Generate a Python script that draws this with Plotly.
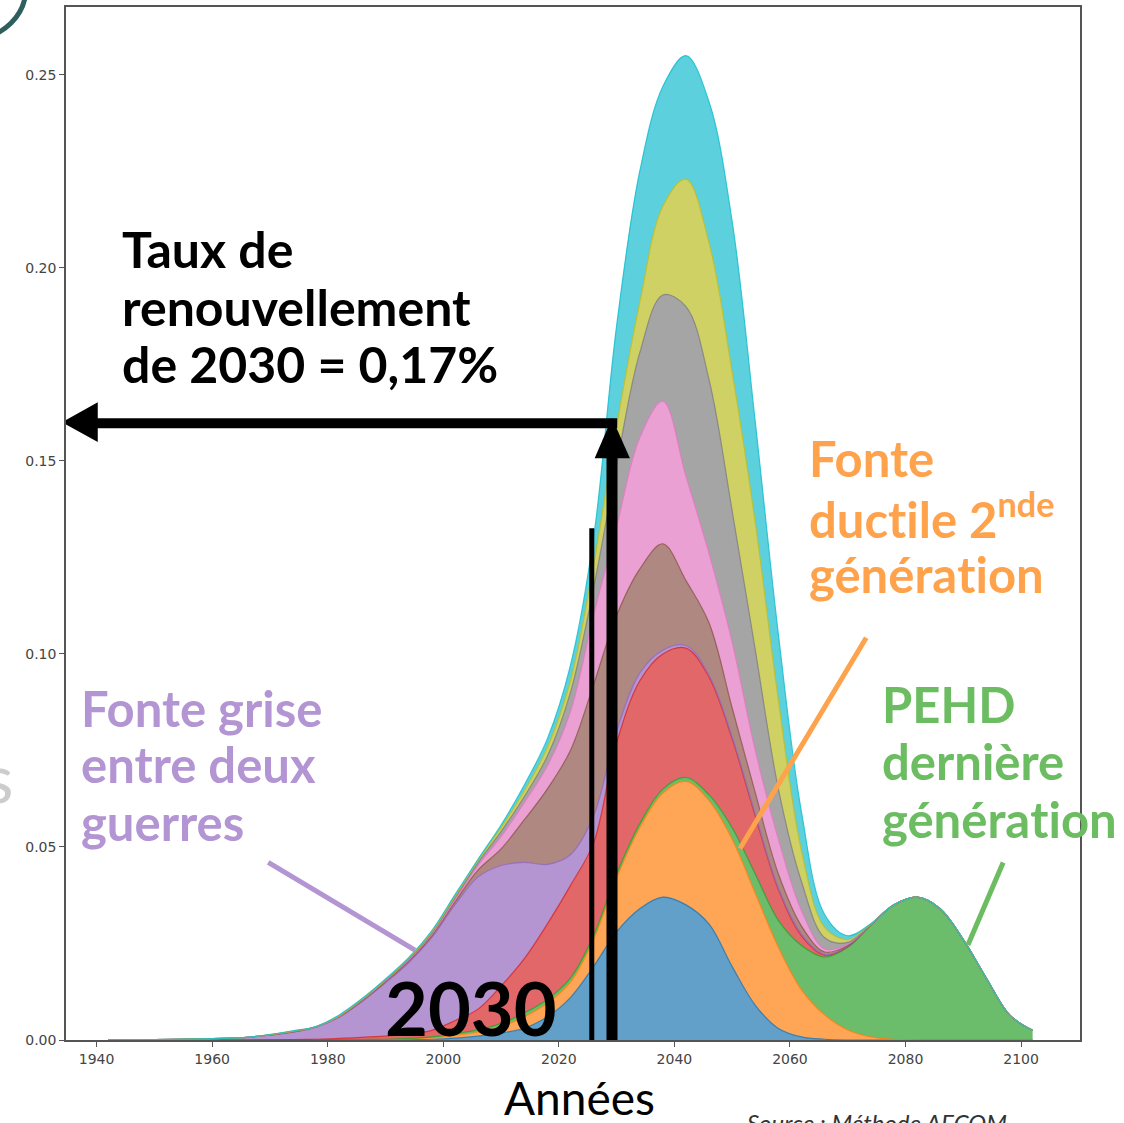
import plotly.graph_objects as go

# Years sampled along the horizontal axis
annees = [1942, 1950, 1958, 1966, 1974, 1978, 1982, 1986, 1990, 1994, 1998, 2002, 2006, 2010,
          2014, 2018, 2022, 2026, 2030, 2034, 2038, 2042, 2046, 2050, 2054, 2058,
          2062, 2066, 2070, 2074, 2078, 2082, 2086, 2090, 2094, 2098, 2102]

# Upper edge of each stacked band (cumulative renewal rate), bottom band first
bord_c0 = [0, 0, 0, 0, 0, 0, 0, 0, 0, .0001, .0002, .0005, .001, .0018, .003, .006, .011, .019,
           .028, .034, .037, .035, .030, .019, .009, .003, .0008, .0002, 0, 0, 0, 0, 0, 0, 0, 0, 0]
bord_c1 = [0, 0, 0, 0, 0, 0, 0, 0, .0001, .0003, .0006, .0012, .002, .0035, .006, .0095, .015, .026,
           .042, .055, .064, .067, .062, .052, .038, .024, .013, .0065, .0026, .0008, .0002, 0, 0, 0, 0, 0, 0]
bord_c2 = [0, 0, 0, 0, 0, 0, 0, .0001, .0002, .0004, .0008, .0016, .0026, .0043, .007, .0105, .016, .027,
           .043, .056, .065, .068, .0635, .055, .043, .031, .0245, .0215, .024, .0298, .035, .037, .034, .026, .016, .0065, .0025]
bord_c3 = [0, 0, 0, 0, .0001, .0002, .0004, .0007, .001, .0015, .0025, .005, .008, .014, .021, .030, .040, .051,
           .077, .093, .100, .1015, .094, .078, .058, .039, .027, .022, .0242, .0298, .035, .037, .034, .026, .016, .0065, .0025]
bord_c4 = [0, .0001, .0003, .0007, .002, .0033, .0059, .0100, .0148, .020, .0265, .035, .0422, .0452, .046, .0455, .048, .058,
           .080, .095, .101, .1022, .0945, .0785, .0585, .0393, .0274, .0222, .0243, .0298, .035, .037, .034, .026, .016, .0065, .0025]
bord_c5 = [0, .0001, .0003, .0007, .0021, .0034, .0060, .0102, .0151, .0204, .027, .0357, .0440, .0495, .057, .065, .075, .092,
           .110, .122, .1285, .119, .108, .086, .064, .043, .0295, .0228, .0245, .0299, .035, .037, .034, .026, .016, .0065, .0025]
bord_c6 = [0, .0001, .0003, .0007, .0022, .0034, .0061, .0104, .0154, .0207, .0274, .0363, .0452, .0527, .0615, .071, .085, .110,
           .133, .156, .1655, .146, .126, .103, .075, .052, .0335, .0236, .0248, .0299, .035, .037, .034, .026, .016, .0065, .0025]
bord_c7 = [0, .0001, .0003, .0007, .0022, .0035, .0062, .0105, .0155, .0209, .0277, .0368, .0459, .054, .063, .0735, .090, .117,
           .149, .178, .193, .190, .171, .137, .101, .065, .041, .0265, .0253, .0300, .035, .037, .034, .026, .016, .0065, .0025]
bord_c8 = [0, .0001, .0003, .0007, .0023, .0035, .0063, .0106, .0156, .0211, .028, .0372, .0465, .055, .0645, .0757, .093, .123,
           .159, .191, .216, .223, .2065, .173, .134, .088, .049, .0292, .026, .0300, .035, .037, .034, .026, .016, .0065, .0025]
bord_c9 = [0, .0001, .0003, .0007, .0024, .0035, .0065, .0108, .0158, .0213, .0283, .0376, .0468, .0557, .066, .078, .097, .130,
           .185, .225, .247, .255, .243, .212, .160, .105, .059, .0325, .0270, .0301, .035, .037, .034, .026, .016, .0065, .0025]

bords = [bord_c0, bord_c1, bord_c2, bord_c3, bord_c4, bord_c5, bord_c6, bord_c7, bord_c8, bord_c9]

# tab10 palette
tab10 = [(31, 119, 180), (255, 127, 14), (44, 160, 44), (214, 39, 40), (148, 103, 189),
         (140, 86, 75), (227, 119, 194), (127, 127, 127), (188, 189, 34), (23, 190, 207)]

ticks_x = [1940, 1960, 1980, 2000, 2020, 2040, 2060, 2080, 2100]
ticks_y = [0.0, 0.05, 0.10, 0.15, 0.20, 0.25]

fig = go.Figure()
for i, (bord, (r, g, b)) in enumerate(zip(bords, tab10)):
    fig.add_trace(go.Scatter(
        x=annees, y=bord, mode="lines",
        line=dict(shape="spline", smoothing=1.0, width=1.2, color=f"rgba({r},{g},{b},0.85)"),
        fill="tozeroy" if i == 0 else "tonexty",
        fillcolor=f"rgba({r},{g},{b},0.70)",
        showlegend=False, hoverinfo="skip",
    ))

annotations = []


def ligne(texte, x, y, taille, couleur, xanchor="left", xref="x", yref="y", famille="Lato", yanchor="middle"):
    annotations.append(dict(
        text=texte, x=x, y=y, xref=xref, yref=yref, xanchor=xanchor, yanchor=yanchor,
        showarrow=False, font=dict(family=famille, size=taille, color=couleur),
    ))


ZWNJ = "\u200c"  # keeps "t" and "i" as separate glyphs (no ligature)

# Rate label for 2030
for t, yy in zip(["<b>Taux de</b>", "<b>renouvellement</b>", "<b>de 2030 = 0,17%</b>"], [0.2048, 0.1898, 0.1751]):
    ligne(t, 1944.0, yy, 50, "#000000")

violet = "#B295D2"
orange = "#FFA24C"
vert = "#6CBC62"
for t, yy in zip(["<b>Fonte grise</b>", "<b>entre deux</b>", "<b>guerres</b>"], [0.0861, 0.0714, 0.0564]):
    ligne(t, 1936.9, yy, 49, violet)
for t, yy in zip(["<b>Fonte</b>", f"<b>duct{ZWNJ}ile 2<sup>nde</sup></b>", f"<b>généra{ZWNJ}t{ZWNJ}ion</b>"],
                 [0.1507, 0.1358, 0.1208]):
    ligne(t, 2062.9, yy, 49, orange)
for t, yy in zip(["<b>PEHD</b>", "<b>dernière</b>", f"<b>généra{ZWNJ}t{ZWNJ}ion</b>"], [0.0871, 0.0722, 0.0572]):
    ligne(t, 2075.5, yy, 49, vert)

ligne("<b>2030</b>", 2004.8, 0.0085, 74, "#000000", xanchor="center")
ligne("Années", 0.506, -0.056, 46, "#000000", xanchor="center", xref="paper", yref="paper")
ligne("<i>Source : Méthode AECOM</i>", 0.6696, -0.0638, 24, "#333333", xref="paper", yref="paper", yanchor="top")
ligne("s", -0.0505, 0.255, 68, "#cccccc", xanchor="right", xref="paper", yref="paper")

shapes = []
# pointer lines from labels to their bands
for (x0, y0, x1, y1), c in [((1969.7, 0.046, 1995.1, 0.0233), violet),
                            ((2073.2, 0.1042, 2051.35, 0.0496), orange),
                            ((2096.9, 0.046, 2090.8, 0.0246), vert)]:
    shapes.append(dict(type="line", xref="x", yref="y", x0=x0, y0=y0, x1=x1, y1=y1,
                       line=dict(color=c, width=5)))

# 2030 marker: thin line, vertical arrow and horizontal arrow to the y axis
shapes.append(dict(type="line", xref="x", yref="y", x0=2025.7, x1=2025.7, y0=0, y1=0.1326,
                   line=dict(color="black", width=5)))
shapes.append(dict(type="line", xref="x", yref="y", x0=2029.2, x1=2029.2, y0=0, y1=0.152,
                   line=dict(color="black", width=11)))
shapes.append(dict(type="path", xref="x", yref="y",
                   path="M 2026.2,0.1507 L 2032.3,0.1507 L 2029.2,0.1611 Z",
                   fillcolor="black", line=dict(width=0)))
shapes.append(dict(type="line", xref="x", yref="y", x0=1939.5, x1=2030.1, y0=0.1598, y1=0.1598,
                   line=dict(color="black", width=10)))
shapes.append(dict(type="path", xref="x", yref="y",
                   path="M 1940.2,0.1652 L 1940.2,0.1549 L 1934.0,0.1600 Z",
                   fillcolor="black", line=dict(width=0)))

# decorative ring in the corner
shapes.append(dict(type="circle", xref="paper", yref="paper", x0=-0.140, x1=-0.0394, y0=0.970, y1=1.0686,
                   line=dict(color="#2F5E5E", width=5)))

axe = dict(showgrid=False, zeroline=False, showline=True, mirror=True, linecolor="#555555", linewidth=1.5,
           ticks="outside", ticklen=5, tickwidth=1, tickcolor="#555555",
           tickfont=dict(family="DejaVu Sans", size=14, color="#444444"))

fig.update_layout(
    width=1124, height=1123,
    margin=dict(l=66, r=44, t=5, b=83),
    paper_bgcolor="white", plot_bgcolor="white",
    xaxis=dict(range=[1934.7, 2110.2], tickvals=ticks_x, **axe),
    yaxis=dict(range=[0, 0.2676], tickvals=ticks_y, tickformat=".2f", **axe),
    annotations=annotations, shapes=shapes,
)

fig.write_html("out.html")
